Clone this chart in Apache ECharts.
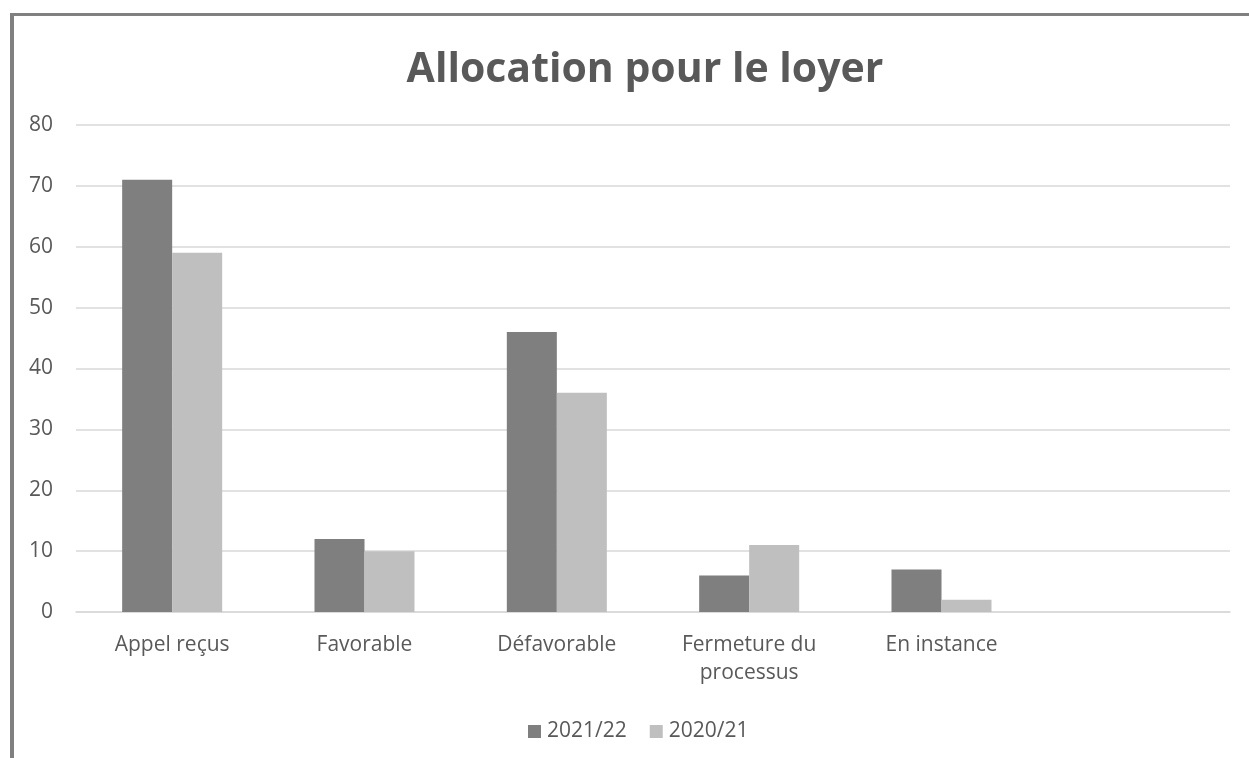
<!DOCTYPE html>
<html>
<head>
<meta charset="utf-8">
<script src="https://cdn.jsdelivr.net/npm/echarts@6/dist/echarts.min.js"></script>
<style>
html,body{margin:0;padding:0;background:#fff;}
#frame{position:absolute;left:10px;top:13px;width:1239px;height:745px;border-left:4px solid #808080;border-top:3px solid #808080;box-sizing:border-box;}
#chart{position:absolute;left:0;top:0;width:1249px;height:758px;}
</style>
</head>
<body>
<div id="frame"></div>
<div id="chart"></div>
<script>
const titleText = 'Allocation pour le loyer';
const categories = ['Appel reçus', 'Favorable', 'Défavorable', 'Fermeture du\nprocessus', 'En instance', ''];
const seriesNames = ['2021/22', '2020/21'];
const values2122 = [71, 12, 46, 6, 7, null];
const values2021 = [59, 10, 36, 11, 2, null];
const yTicks = { min: 0, max: 80, interval: 10 };

const font = '"Open Sans", "Liberation Sans", sans-serif';
const chart = echarts.init(document.getElementById('chart'), null, { renderer: 'canvas' });
chart.setOption({
  backgroundColor: 'transparent',
  animation: false,
  title: {
    text: titleText, left: 640, top: 45, textAlign: 'center',
    textStyle: { fontFamily: font, fontSize: 41, fontWeight: 'bold', color: '#595959' }
  },
  legend: {
    data: seriesNames, top: 716, left: 523, itemWidth: 13, itemHeight: 13, itemGap: 23, icon: 'rect',
    textStyle: { fontFamily: font, fontSize: 21, color: '#595959', padding: [0, 0, 0, 1] }
  },
  grid: { left: 76, right: 19, top: 125, bottom: 146, containLabel: false },
  xAxis: {
    type: 'category', data: categories,
    axisLine: { lineStyle: { color: '#d9d9d9', width: 1.5 } },
    axisTick: { show: false },
    axisLabel: { fontFamily: font, fontSize: 21, color: '#595959', margin: 19, lineHeight: 28, interval: 0 }
  },
  yAxis: {
    type: 'value', min: yTicks.min, max: yTicks.max, interval: yTicks.interval,
    axisLine: { show: false }, axisTick: { show: false },
    splitLine: { lineStyle: { color: '#d9d9d9', width: 1.5 } },
    axisLabel: { fontFamily: font, fontSize: 21, color: '#595959', margin: 23 }
  },
  series: [
    { name: seriesNames[0], type: 'bar', data: values2122, barGap: '0%', barCategoryGap: '48%', itemStyle: { color: '#7f7f7f' } },
    { name: seriesNames[1], type: 'bar', data: values2021, barGap: '0%', barCategoryGap: '48%', itemStyle: { color: '#bfbfbf' } }
  ]
});
</script>
</body>
</html>
